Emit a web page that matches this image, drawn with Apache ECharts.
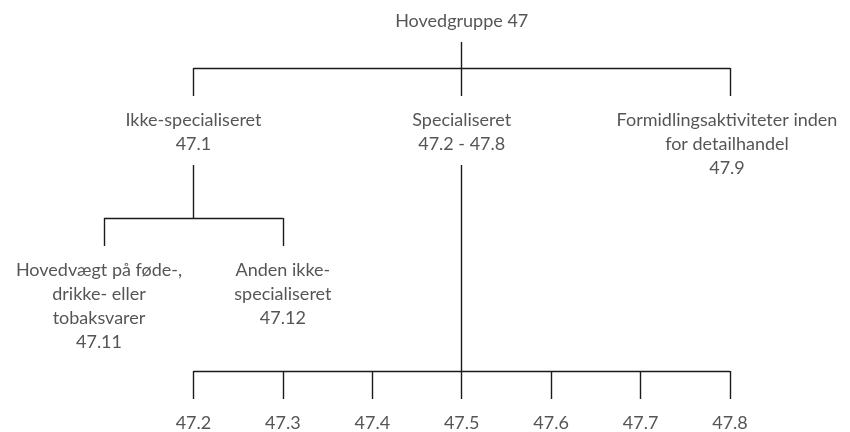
<!DOCTYPE html>
<html>
<head>
<meta charset="utf-8">
<script src="https://cdn.jsdelivr.net/npm/echarts@6/dist/echarts.min.js"></script>
<style>
  html, body { margin: 0; padding: 0; background: #ffffff; }
  #chart { width: 850px; height: 432px; }
</style>
</head>
<body>
<div id="chart"></div>
<script>
// ---- Data ----
const nodeNames = [
  'Hovedgruppe 47',
  'Ikke-specialiseret\n47.1',
  'Specialiseret\n47.2 - 47.8',
  'Formidlingsaktiviteter inden\nfor detailhandel\n47.9',
  'Hovedvægt på føde-,\ndrikke- eller\ntobaksvarer\n47.11',
  'Anden ikke-\nspecialiseret\n47.12',
  '47.2', '47.3', '47.4', '47.5', '47.6', '47.7', '47.8'
];
const nodeParents = [-1, 0, 0, 0, 1, 1, 2, 2, 2, 2, 2, 2, 2];
const nodeColumns = [4, 1, 4, 7, 0, 2, 1, 2, 3, 4, 5, 6, 7];
const nodeLevels  = [0, 1, 1, 1, 2, 2, 3, 3, 3, 3, 3, 3, 3];

// ---- Layout / style ----
const levelTop = [9, 108, 258, 411];
const LINE_H = 24;
const PARENT_GAP = 9;
const CHILD_GAP = 12;
const BUS_GAP = 28;
const labelOffsets = { 4: [-5, 0], 3: [-3, 0] };

const nodeData = nodeNames.map((name, i) => {
  const d = { name: name, value: [nodeColumns[i], levelTop[nodeLevels[i]]] };
  if (labelOffsets[i]) d.label = { offset: labelOffsets[i] };
  return d;
});

const lineData = [];
nodeNames.forEach((name, p) => {
  const kids = nodeParents.map((par, i) => par === p ? i : -1).filter(i => i >= 0);
  if (!kids.length) return;
  const nLines = name.split('\n').length;
  const pc = nodeColumns[p];
  const parentBottom = levelTop[nodeLevels[p]] + nLines * LINE_H + PARENT_GAP;
  const childTop = levelTop[nodeLevels[kids[0]]] - CHILD_GAP;
  const bus = childTop - BUS_GAP;
  lineData.push({ coords: [[pc, parentBottom], [pc, bus]] });
  const cols = kids.map(k => nodeColumns[k]).concat([pc]);
  lineData.push({ coords: [[Math.min(...cols), bus], [Math.max(...cols), bus]] });
  kids.forEach(k => {
    lineData.push({ coords: [[nodeColumns[k], bus], [nodeColumns[k], childTop]] });
  });
});

const chart = echarts.init(document.getElementById('chart'));
chart.setOption({
  backgroundColor: '#ffffff',
  animation: false,
  grid: { left: 104, right: 120, top: 0, bottom: 0 },
  xAxis: { type: 'value', min: 0, max: 7, show: false },
  yAxis: { type: 'value', min: 0, max: 432, inverse: true, show: false },
  series: [
    {
      type: 'lines',
      coordinateSystem: 'cartesian2d',
      silent: true,
      lineStyle: { color: '#1a1a1a', width: 1.4, opacity: 1 },
      data: lineData
    },
    {
      type: 'scatter',
      silent: true,
      symbol: 'circle',
      symbolSize: 1,
      itemStyle: { color: 'rgba(255,255,255,0)' },
      label: {
        show: true,
        position: 'bottom',
        distance: 0,
        formatter: '{b}',
        fontFamily: 'Lato',
        fontSize: 18,
        lineHeight: LINE_H,
        color: '#2a2a2a',
        align: 'center'
      },
      data: nodeData
    }
  ]
});
</script>
</body>
</html>
